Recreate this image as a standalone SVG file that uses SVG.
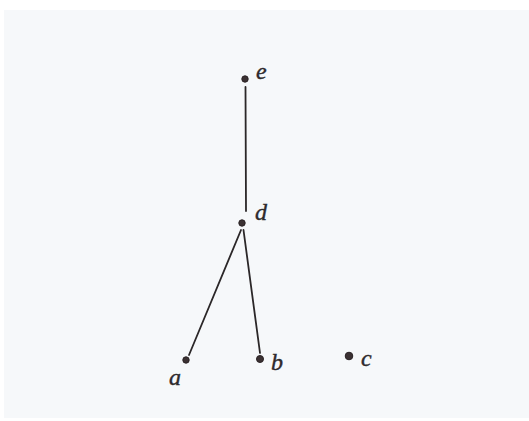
<svg xmlns="http://www.w3.org/2000/svg" width="529" height="421" viewBox="0 0 529 421">
<style>
.dot{fill:#3b3133;stroke:#2a2224;stroke-width:1}
.lbl{font-family:"Liberation Serif",serif;font-style:italic;font-size:24px;fill:#2e2a2c;stroke:#2e2a2c;stroke-width:0.4}
.edge{stroke:#2b2728;stroke-width:1.8;fill:none;stroke-linecap:round}
</style>
<rect width="529" height="421" fill="#ffffff"/>
<rect x="4" y="10" width="525" height="408" fill="#f6f8fa"/>
<g id="connectors">
<line class="edge" x1="245.5" y1="87" x2="246" y2="211"/>
<line class="edge" x1="241" y1="230" x2="189" y2="355"/>
<line class="edge" x1="243.5" y1="230" x2="260" y2="353"/>
</g>
<g id="node-e"><circle class="dot" cx="245" cy="79" r="3.2"/><text class="lbl" x="256" y="79">e</text></g>
<g id="node-d"><circle class="dot" cx="242" cy="223" r="3.2"/><text class="lbl" x="255" y="220">d</text></g>
<g id="node-a"><circle class="dot" cx="186" cy="360" r="3.2"/><text class="lbl" x="169" y="385">a</text></g>
<g id="node-b"><circle class="dot" cx="260" cy="359" r="3.5"/><text class="lbl" x="271" y="370">b</text></g>
<g id="node-c"><circle class="dot" cx="349" cy="356" r="3.8"/><text class="lbl" x="361" y="366">c</text></g>
</svg>
